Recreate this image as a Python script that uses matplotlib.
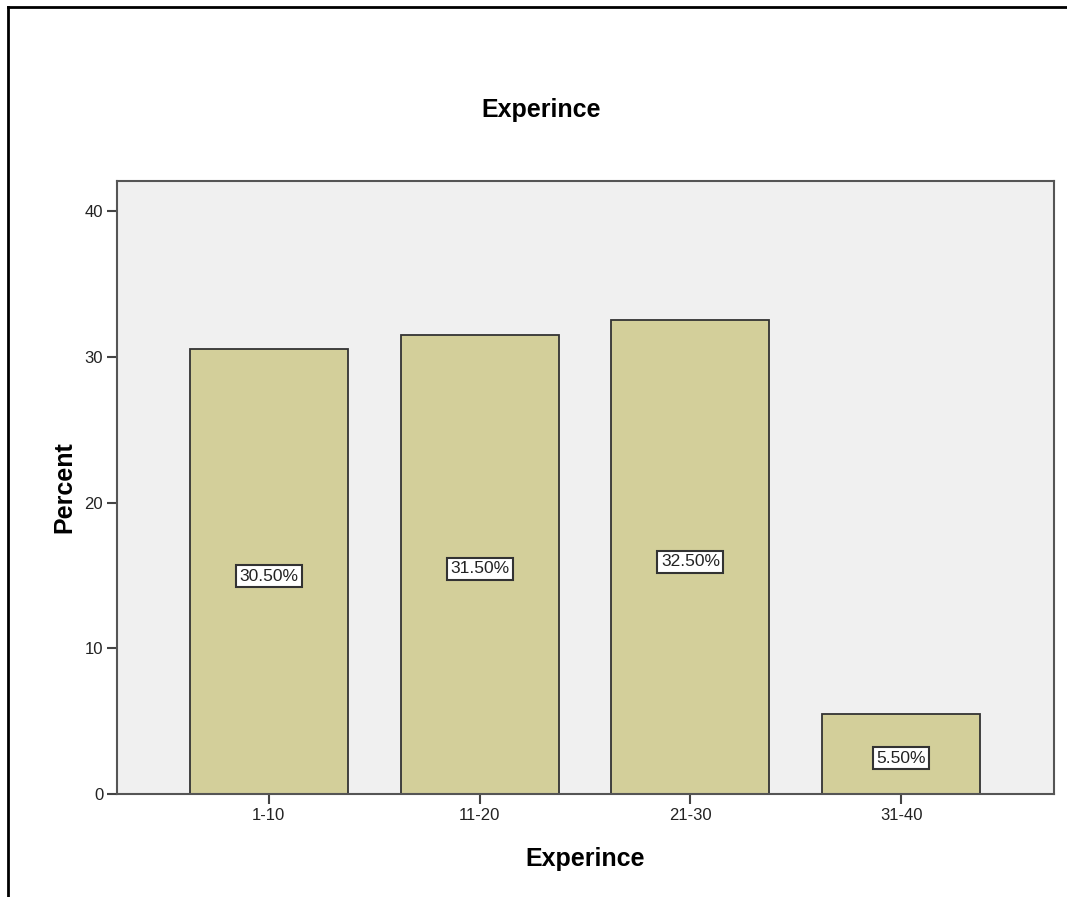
import matplotlib.pyplot as plt
from matplotlib.lines import Line2D

plt.rcParams['font.family'] = ['Liberation Sans', 'DejaVu Sans']

categories = ['1-10', '11-20', '21-30', '31-40']
percents = [30.5, 31.5, 32.5, 5.5]
bar_labels = ['30.50%', '31.50%', '32.50%', '5.50%']

fig = plt.figure(figsize=(10.67, 8.97), dpi=100)
ax = fig.add_axes([0.1097, 0.1148, 0.8781, 0.6834])
ax.set_facecolor('#F0F0F0')

x = range(len(categories))
ax.bar(x, percents, width=0.75, color='#D3CF9A', edgecolor='#333333', linewidth=1.3, zorder=2)

for i, (v, lab) in enumerate(zip(percents, bar_labels)):
    ax.text(i, v / 2 - 0.3, lab, ha='center', va='center', fontsize=12.5, color='#222222',
            bbox=dict(boxstyle='square,pad=0.2', facecolor='white', edgecolor='#333333', linewidth=1.5),
            zorder=3)

ax.set_xlim(-0.72, 3.725)
ax.set_ylim(0, 42.06)
ax.set_xticks(list(x))
ax.set_xticklabels(categories)
ax.set_yticks([0, 10, 20, 30, 40])
ax.tick_params(axis='both', direction='out', length=7, width=1.5, color='#444444',
               labelsize=12, labelcolor='#222222', pad=3)

for s in ax.spines.values():
    s.set_color('#555555')
    s.set_linewidth(1.5)

ax.set_xlabel('Experince', fontsize=18, fontweight='bold', labelpad=17)
ax.set_ylabel('Percent', fontsize=18, fontweight='bold', labelpad=6)
fig.text(0.507, 0.877, 'Experince', ha='center', va='center', fontsize=18, fontweight='bold')

# outer frame (left and top edges)
fig.add_artist(Line2D([0.0075, 0.0075], [0, 0.992], transform=fig.transFigure, color='black', linewidth=2))
fig.add_artist(Line2D([0.0075, 1.0], [0.992, 0.992], transform=fig.transFigure, color='black', linewidth=2))

fig.savefig('out.png', dpi=100)
